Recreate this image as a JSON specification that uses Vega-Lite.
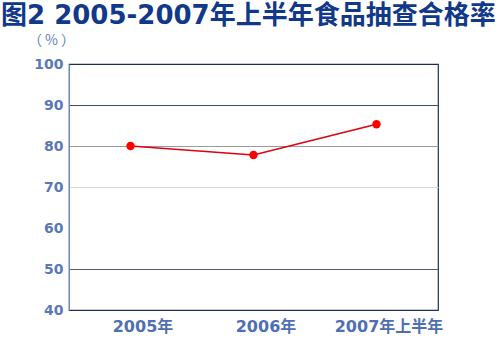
{
  "$schema": "https://vega.github.io/schema/vega-lite/v6.json",
  "autosize": "none",
  "width": 369,
  "height": 246,
  "padding": {"left": 69, "top": 64, "right": 62, "bottom": 38},
  "background": "white",
  "title": {
    "text": "图2 2005-2007年上半年食品抽查合格率",
    "anchor": "start",
    "frame": "group",
    "dx": -68,
    "offset": 4,
    "font": "DejaVu Sans, Noto Sans CJK SC",
    "fontSize": 26,
    "fontWeight": "bold",
    "color": "#12388a"
  },
  "config": {
    "view": {"stroke": "#1c2c5c", "strokeWidth": 1.2},
    "font": "Noto Sans CJK SC"
  },
  "data": {
    "values": [
      {"year": "2005年", "rate": 80.0},
      {"year": "2006年", "rate": 77.8},
      {"year": "2007年上半年", "rate": 85.3}
    ]
  },
  "encoding": {
    "x": {
      "field": "year",
      "type": "ordinal",
      "sort": null,
      "scale": {"type": "point", "padding": 0.5},
      "axis": {
        "title": null,
        "domain": false,
        "ticks": false,
        "grid": false,
        "labelAngle": 0,
        "labelFont": "DejaVu Sans, Noto Sans CJK SC",
        "labelFontSize": 16,
        "labelFontWeight": "bold",
        "labelColor": "#4f6fb3",
        "labelPadding": 8,
        "labelOffset": 12
      }
    },
    "y": {
      "field": "rate",
      "type": "quantitative",
      "scale": {"domain": [40, 100], "nice": false, "zero": false},
      "axis": {
        "values": [40, 50, 60, 70, 80, 90, 100],
        "title": "（ % ）",
        "titleAngle": 0,
        "titleX": -18,
        "titleY": -24,
        "titleAlign": "center",
        "titleBaseline": "middle",
        "titleFont": "Noto Sans CJK SC",
        "titleFontSize": 14,
        "titleFontWeight": "normal",
        "titleColor": "#6080c0",
        "domain": true,
        "domainColor": "#6a88b8",
        "ticks": false,
        "labelFont": "DejaVu Sans",
        "labelFontSize": 14,
        "labelFontWeight": "bold",
        "labelColor": "#5a78b8",
        "labelPadding": 6,
        "labelDy": -5,
        "grid": true,
        "gridColor": {
          "condition": [
            {"test": "datum.value == 90", "value": "#3c4c6c"},
            {"test": "datum.value == 80", "value": "#9a9a9a"},
            {"test": "datum.value == 70", "value": "#d8d8d8"},
            {"test": "datum.value == 50", "value": "#5a5a6a"},
            {"test": "datum.value == 60", "value": "rgba(0,0,0,0)"}
          ],
          "value": "rgba(0,0,0,0)"
        }
      }
    }
  },
  "layer": [
    {"mark": {"type": "line", "color": "#e00010", "strokeWidth": 1.6}},
    {"mark": {"type": "point", "filled": true, "opacity": 1, "color": "#ff0000", "size": 70}}
  ]
}
